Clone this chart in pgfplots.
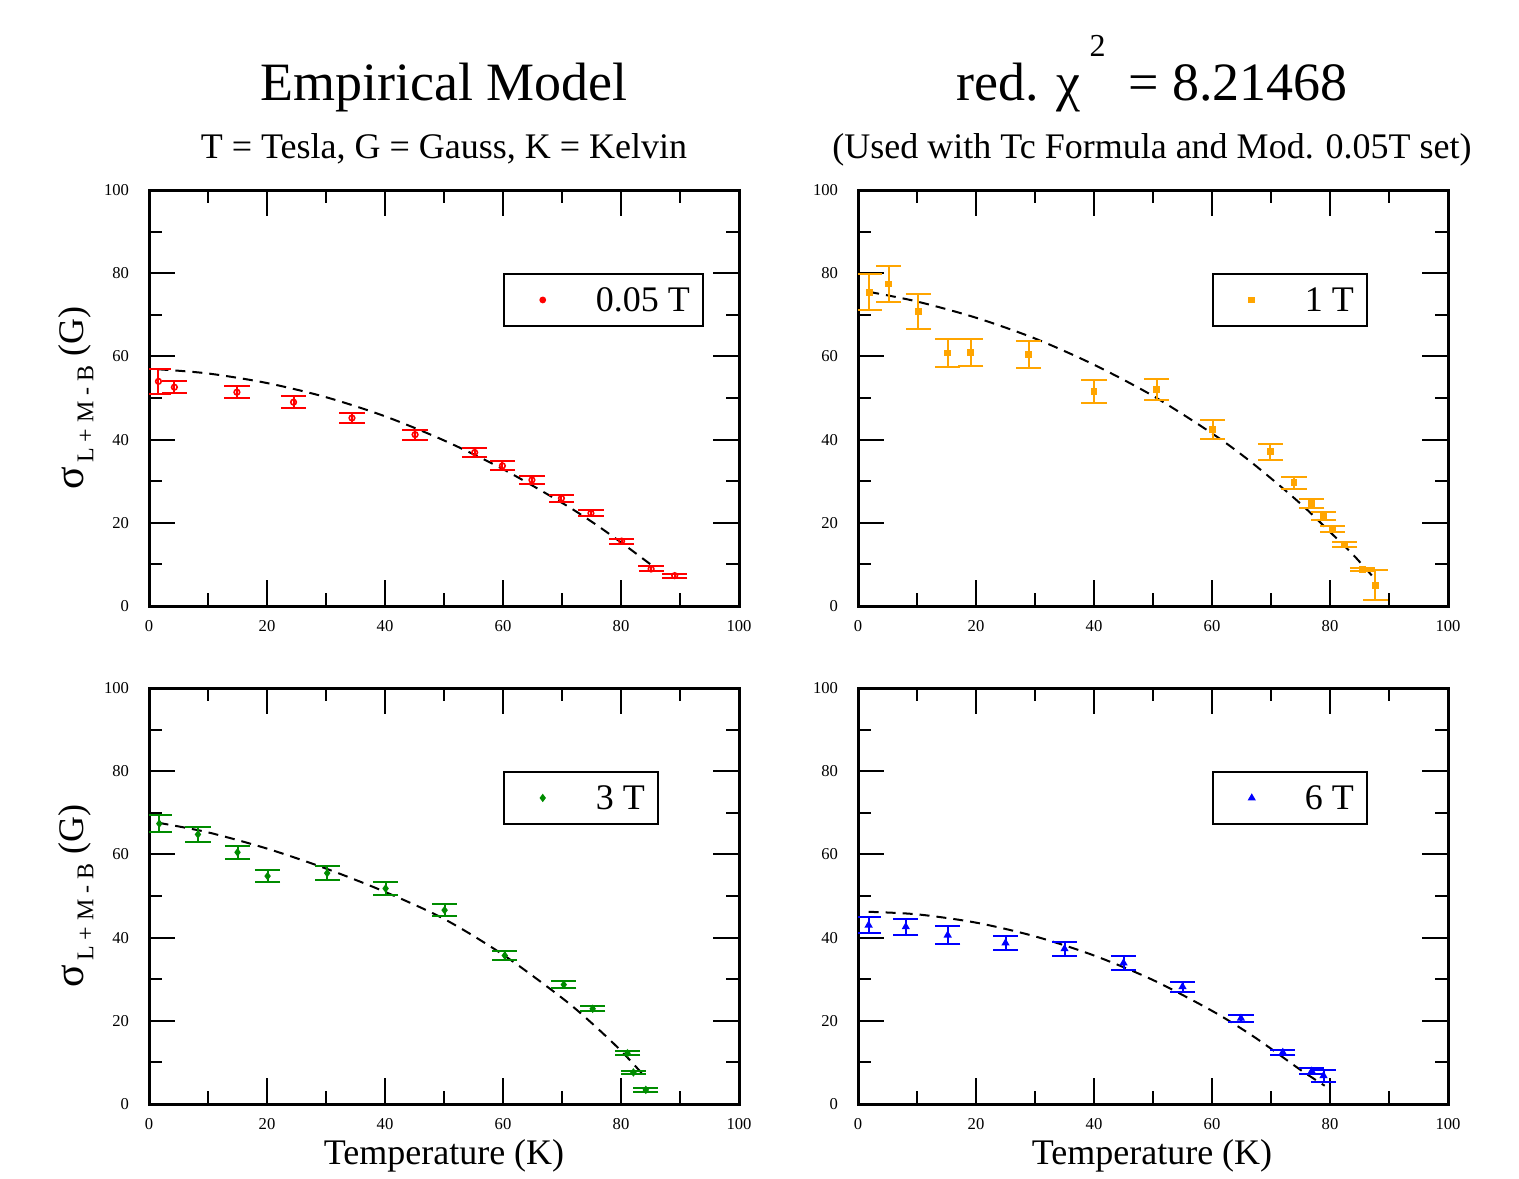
\documentclass[border=0pt]{standalone}
\usepackage{fontspec}
\setmainfont{Liberation Serif}
\usepackage{pgfplots}
\pgfplotsset{compat=1.18}
\usepackage{pgfplotstable}

\definecolor{cred}{RGB}{255,0,0}
\definecolor{corange}{RGB}{255,165,0}
\definecolor{cgreen}{RGB}{0,140,0}
\definecolor{cblue}{RGB}{0,0,255}

\pgfplotstableread{
x y e
1.6 54.0 3.0
4.3 52.6 1.5
14.9 51.4 1.5
24.5 49.0 1.4
34.4 45.2 1.3
45.1 41.2 1.2
55.2 36.9 1.1
59.9 33.7 1.05
64.9 30.3 0.9
69.9 25.9 0.85
74.9 22.3 0.75
80.1 15.6 0.6
85.1 8.9 0.6
89.1 7.3 0.5
}\dataA
\pgfplotstableread{
x y
1.6 56.9
10 55.9
20 53.6
30 50.2
40 45.6
50 39.8
60 32.9
70 24.8
75 20.3
80 15.3
85.1 9.9
}\fitA
\pgfplotstableread{
x y e
1.9 75.4 4.3
5.2 77.4 4.3
10.2 70.8 4.1
15.2 60.8 3.35
19.1 61.0 3.25
28.9 60.5 3.2
40.0 51.5 2.8
50.6 52.1 2.55
60.1 42.5 2.25
69.9 37.1 1.9
73.9 29.6 1.4
76.9 24.6 1.05
78.9 21.6 0.95
80.4 18.5 0.8
82.5 14.8 0.65
85.5 8.8 0.3
87.7 5.0 3.65
}\dataB
\pgfplotstableread{
x y
1.9 75.5
10 73.2
20 69.3
30 64.3
40 58.0
50 50.5
60 41.5
66 35.3
72 28.3
76 23.3
80 17.8
84 12.2
87.6 6.5
}\fitB
\pgfplotstableread{
x y e
1.75 67.4 2.0
8.3 64.8 1.85
15.0 60.5 1.6
20.1 54.8 1.5
30.2 55.5 1.7
40.1 51.8 1.45
50.1 46.6 1.4
60.3 35.7 1.05
70.3 28.7 0.8
75.2 22.9 0.6
81.1 12.2 0.5
82.1 7.6 0.4
84.2 3.4 0.45
}\dataC
\pgfplotstableread{
x y
1.6 67.6
10 65.3
20 61.4
30 56.6
40 51.0
50 44.5
60 35.9
70 25.5
75 19.5
80 12.8
84.1 6.5
}\fitC
\pgfplotstableread{
x y e
1.8 43.0 1.9
8.1 42.6 1.9
15.2 40.6 2.15
25.0 38.7 1.75
35.0 37.3 1.6
45.0 33.9 1.7
55.0 28.2 1.2
64.9 20.6 0.9
72.0 12.4 0.7
76.9 7.9 0.75
78.9 6.8 1.4
}\dataD
\pgfplotstableread{
x y
1.8 46.2
10 45.6
20 43.6
30 40.3
40 35.7
50 29.8
60 22.4
66 17.2
70 13.3
75 8.2
79.1 4.4
}\fitD

\pgfplotsset{
  panel/.style={
    scale only axis, width=295pt, height=208pt,
    xmin=0, xmax=100, ymin=0, ymax=100,
    xtick={0,20,...,100}, ytick={0,20,...,100},
    minor x tick num=1, minor y tick num=1,
    tick align=inside, xtick pos=both, ytick pos=both,
    major tick length=13pt, minor tick length=6.5pt,
    every tick/.style={black, line width=1pt},
    axis line style={line width=1.5pt},
    /pgf/number format/assume math mode=true,
    ticklabel style={font=\fontsize{8.3}{9}\selectfont},
    xticklabel style={yshift=-3.5pt},
    yticklabel style={xshift=-6.5pt},
    legend style={at={(axis description cs:0.6,0.8)}, anchor=north west,
      draw=black, line width=0.75pt, inner sep=0pt, column sep=0pt,
      nodes={inner sep=0pt, text depth=0pt},
      font=\fontsize{18}{18}\selectfont},
    legend image code/.code={\path[draw=none, fill=none] (-19.5pt,-13pt) rectangle (26.5pt,13pt);
      \draw[##1] plot coordinates {(0pt,0pt)};},
    clip=true,
  },
  eb/.style={only marks, line width=0.8pt,
    error bars/y dir=both, error bars/y explicit,
    error bars/error bar style={line width=1pt},
    error bars/error mark options={rotate=90, mark size=6.3pt, line width=1pt}},
  fit/.style={black, dashed, line width=1pt, dash pattern=on 5pt off 3.5pt, smooth, no marks},
}

\newcommand{\ylab}{{\fontsize{21}{21}\selectfont σ}\raisebox{-5pt}{\fontsize{12}{12}\selectfont\,L + M - B}\ (G)}

\begin{document}
\begin{tikzpicture}
\path[use as bounding box] (0,0) rectangle (759.5pt,-589pt);

% titles
\node[anchor=base, font=\fontsize{27}{27}\selectfont] at (222pt,-50pt) {Empirical Model};
\node[anchor=base, font=\fontsize{18}{18}\selectfont] at (222pt,-79pt) {T = Tesla, G = Gauss, K = Kelvin};
\node[anchor=base, font=\fontsize{27}{27}\selectfont] at (576pt,-50pt) {red. χ\,\raisebox{22pt}{\fontsize{16}{16}\selectfont 2}\, = 8.21468};
\node[anchor=base, font=\fontsize{18}{18}\selectfont] at (576pt,-79pt) {(Used with Tc Formula and Mod. 0.05T set)};

% y labels
\node[rotate=90, font=\fontsize{18}{18}\selectfont] at (38pt,-199pt) {\ylab};
\node[rotate=90, font=\fontsize{18}{18}\selectfont] at (38pt,-448pt) {\ylab};
% x labels
\node[anchor=base, font=\fontsize{18}{18}\selectfont] at (222pt,-582pt) {Temperature (K)};
\node[anchor=base, font=\fontsize{18}{18}\selectfont] at (576pt,-582pt) {Temperature (K)};

\begin{axis}[panel, at={(74.5pt,-303pt)}, anchor=south west]
\addlegendimage{only marks, mark=*, cred, mark size=1.3pt}
\addlegendentry{0.05 T\hspace*{6.5pt}}
\addplot[fit, forget plot] table[x=x,y=y] {\fitA};
\addplot[eb, cred, mark=o, mark size=1.4pt, forget plot] table[x=x,y=y,y error=e] {\dataA};
\end{axis}

\begin{axis}[panel, at={(429pt,-303pt)}, anchor=south west]
\addlegendimage{only marks, mark=square*, corange, mark size=1.3pt}
\addlegendentry{1 T\hspace*{6.5pt}}
\addplot[fit, forget plot] table[x=x,y=y] {\fitB};
\addplot[eb, corange, mark=square*, mark size=1.3pt, forget plot] table[x=x,y=y,y error=e] {\dataB};
\end{axis}

\begin{axis}[panel, at={(74.5pt,-552pt)}, anchor=south west]
\addlegendimage{only marks, mark=diamond*, cgreen, mark size=1.5pt}
\addlegendentry{3 T\hspace*{6.5pt}}
\addplot[fit, forget plot] table[x=x,y=y] {\fitC};
\addplot[eb, cgreen, mark=diamond*, mark size=1.5pt, forget plot] table[x=x,y=y,y error=e] {\dataC};
\end{axis}

\begin{axis}[panel, at={(429pt,-552pt)}, anchor=south west]
\addlegendimage{only marks, mark=triangle*, cblue, mark size=1.6pt}
\addlegendentry{6 T\hspace*{6.5pt}}
\addplot[fit, forget plot] table[x=x,y=y] {\fitD};
\addplot[eb, cblue, mark=triangle*, mark size=1.6pt, forget plot] table[x=x,y=y,y error=e] {\dataD};
\end{axis}
\end{tikzpicture}
\end{document}
